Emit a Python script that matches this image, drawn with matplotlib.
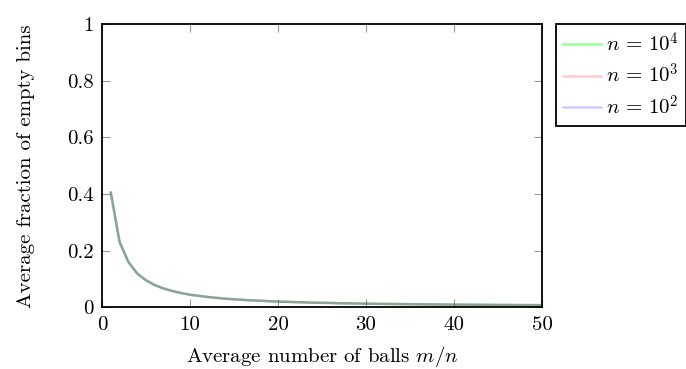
import matplotlib

matplotlib.use("Agg")
import matplotlib.pyplot as plt

plt.rcParams["font.family"] = "serif"
plt.rcParams["font.serif"] = ["cmr10"]
plt.rcParams["mathtext.fontset"] = "cm"
plt.rcParams["axes.formatter.use_mathtext"] = True

# average number of balls per bin
balls = list(range(1, 51))
# average fraction of empty bins (the three n curves overlap)
frac_n4 = [0.405, 0.231, 0.160, 0.120, 0.096, 0.079, 0.067, 0.058, 0.051, 0.045,
           0.041, 0.037, 0.034, 0.031, 0.029, 0.027, 0.025, 0.024, 0.022, 0.021,
           0.020, 0.019, 0.018, 0.017, 0.0165, 0.016, 0.015, 0.0145, 0.014, 0.0135,
           0.013, 0.0127, 0.0123, 0.012, 0.0116, 0.0112, 0.011, 0.0107, 0.0104, 0.0101,
           0.0099, 0.0097, 0.0095, 0.0093, 0.0091, 0.0089, 0.0087, 0.0085, 0.0083, 0.0082]
frac_n3 = list(frac_n4)
frac_n2 = list(frac_n4)

x_ticks = [0, 10, 20, 30, 40, 50]
y_ticks = [0, 0.2, 0.4, 0.6, 0.8, 1]
y_tick_labels = ["0", "0.2", "0.4", "0.6", "0.8", "1"]

fig = plt.figure(figsize=(6.86, 3.69), dpi=100)
ax = fig.add_axes([0.1487, 0.1667, 0.6413, 0.7683])

ax.plot(balls, frac_n4, color=(0, 1, 0), alpha=0.4, linewidth=1.8, label=r"$n\,=\,10^4$")
ax.plot(balls, frac_n3, color=(1, 0, 0), alpha=0.2, linewidth=1.8, label=r"$n\,=\,10^3$")
ax.plot(balls, frac_n2, color=(0, 0, 1), alpha=0.2, linewidth=1.8, label=r"$n\,=\,10^2$")

ax.set_xlim(0, 50)
ax.set_ylim(0, 1)
ax.set_xticks(x_ticks)
ax.set_xticklabels([str(t) for t in x_ticks])
ax.set_yticks(y_ticks)
ax.set_yticklabels(y_tick_labels)
ax.tick_params(direction="in", length=6, width=0.8, color="#999999",
               top=True, right=True, labelsize=15)
ax.tick_params(axis="x", pad=6)
ax.tick_params(axis="y", pad=6)
for s in ax.spines.values():
    s.set_linewidth(1.3)

ax.set_xlabel(r"Average number of balls $m/n$", fontsize=15, va="top")
ax.xaxis.set_label_coords(0.5, -0.13)
ax.set_ylabel("Average fraction of empty bins", fontsize=15)
ax.yaxis.set_label_coords(-0.152, 0.5)

leg = ax.legend(loc="upper left", bbox_to_anchor=(1.032, 1.0), fontsize=15,
                frameon=True, fancybox=False, edgecolor="black", framealpha=1,
                handlelength=1.8, handletextpad=0.25, borderaxespad=0,
                labelspacing=0.35, borderpad=0.35)
leg.get_frame().set_linewidth(1.3)

fig.savefig("out.png", dpi=100)
